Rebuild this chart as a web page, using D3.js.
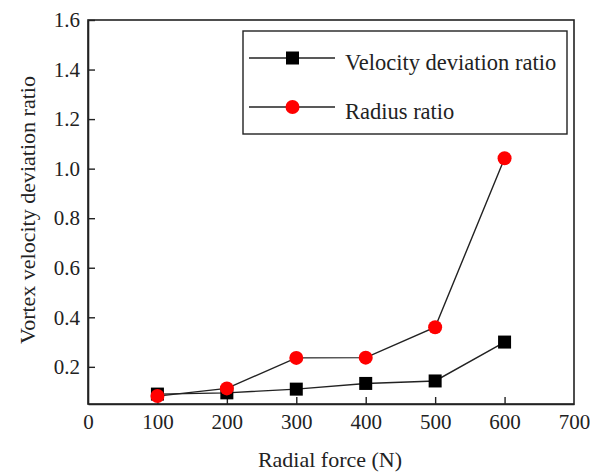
<!DOCTYPE html>
<html>
<head>
<meta charset="utf-8">
<script src="https://cdn.jsdelivr.net/npm/d3@7"></script>
<style>
  body { margin: 0; background: #fff; }
</style>
</head>
<body>
<svg id="chart"></svg>
<script>
// --- data ---
const forces = [100, 200, 300, 400, 500, 600];
const velocityRatio = [0.09, 0.095, 0.11, 0.133, 0.143, 0.30];
const radiusRatio = [0.082, 0.113, 0.236, 0.237, 0.36, 1.042];
const xTicks = [0, 100, 200, 300, 400, 500, 600, 700];
const yTicks = [0.2, 0.4, 0.6, 0.8, 1.0, 1.2, 1.4, 1.6];

const FONT = "'Liberation Serif', Tinos, 'Times New Roman', 'DejaVu Serif', serif";
const width = 590, height = 472;
const margin = {top: 20, right: 16, bottom: 68, left: 88};

const svg = d3.select("#chart").attr("width", width).attr("height", height);

const x = d3.scaleLinear().domain([0, 700]).range([margin.left, width - margin.right]);
const y = d3.scaleLinear().domain([0.05, 1.6]).range([height - margin.bottom, margin.top]);

// frame
svg.append("rect")
   .attr("x", margin.left).attr("y", margin.top)
   .attr("width", width - margin.left - margin.right)
   .attr("height", height - margin.bottom - margin.top)
   .attr("fill", "none").attr("stroke", "#222").attr("stroke-width", 1.6);

// axes with inner ticks
const xAxis = svg.append("g")
   .attr("transform", `translate(0,${height - margin.bottom})`)
   .call(d3.axisBottom(x).tickValues(xTicks).tickFormat(d3.format("d")).tickSizeInner(-7).tickSizeOuter(0).tickPadding(10));
const yAxis = svg.append("g")
   .attr("transform", `translate(${margin.left},0)`)
   .call(d3.axisLeft(y).tickValues(yTicks).tickFormat(d3.format(".1f")).tickSizeInner(-7).tickSizeOuter(0).tickPadding(8));

[xAxis, yAxis].forEach(g => {
  g.attr("font-size", 21).attr("font-family", null);
  g.select(".domain").attr("stroke", "#222").attr("stroke-width", 1.6);
  g.selectAll(".tick line").attr("stroke", "#222").attr("stroke-width", 1.4);
  g.selectAll(".tick text").attr("fill", "#222").style("font-family", FONT);
});
xAxis.selectAll(".tick").filter(d => d === 0 || d === 700).select("line").remove();

// axis titles
svg.append("text")
   .attr("x", 330)
   .attr("y", 467)
   .attr("text-anchor", "middle").attr("font-size", 22)
   .style("font-family", FONT).attr("fill", "#222")
   .text("Radial force (N)");
svg.append("text")
   .attr("transform", `translate(35,210) rotate(-90)`)
   .attr("text-anchor", "middle").attr("font-size", 22)
   .style("font-family", FONT).attr("fill", "#222")
   .text("Vortex velocity deviation ratio");

const line = d3.line().x(d => x(d[0])).y(d => y(d[1]));
const velPts = forces.map((f, i) => [f, velocityRatio[i]]);
const radPts = forces.map((f, i) => [f, radiusRatio[i]]);

svg.append("path").datum(velPts).attr("d", line)
   .attr("fill", "none").attr("stroke", "#222").attr("stroke-width", 1.4);
svg.append("path").datum(radPts).attr("d", line)
   .attr("fill", "none").attr("stroke", "#222").attr("stroke-width", 1.4);

const sq = 13;
svg.selectAll("rect.vel").data(velPts).enter().append("rect")
   .attr("class", "vel")
   .attr("x", d => x(d[0]) - sq / 2).attr("y", d => y(d[1]) - sq / 2)
   .attr("width", sq).attr("height", sq).attr("fill", "#000");
svg.selectAll("circle.rad").data(radPts).enter().append("circle")
   .attr("class", "rad")
   .attr("cx", d => x(d[0])).attr("cy", d => y(d[1]))
   .attr("r", 7).attr("fill", "#ff0000");

// legend
const lg = svg.append("g");
lg.append("rect").attr("x", 243).attr("y", 31).attr("width", 324).attr("height", 103)
  .attr("fill", "#fff").attr("stroke", "#222").attr("stroke-width", 1.4);
const legendItems = [
  {label: "Velocity deviation ratio", shape: "square", y: 58},
  {label: "Radius ratio", shape: "circle", y: 107}
];
legendItems.forEach(it => {
  lg.append("line").attr("x1", 249).attr("x2", 335).attr("y1", it.y).attr("y2", it.y)
    .attr("stroke", "#222").attr("stroke-width", 1.4);
  if (it.shape === "square") {
    lg.append("rect").attr("x", 292.5 - sq / 2).attr("y", it.y - sq / 2)
      .attr("width", sq).attr("height", sq).attr("fill", "#000");
  } else {
    lg.append("circle").attr("cx", 292.5).attr("cy", it.y).attr("r", 7).attr("fill", "#ff0000");
  }
  lg.append("text").attr("x", 345).attr("y", it.y + 12).attr("font-size", 22.5)
    .style("font-family", FONT).attr("fill", "#222").text(it.label);
});
</script>
</body>
</html>
